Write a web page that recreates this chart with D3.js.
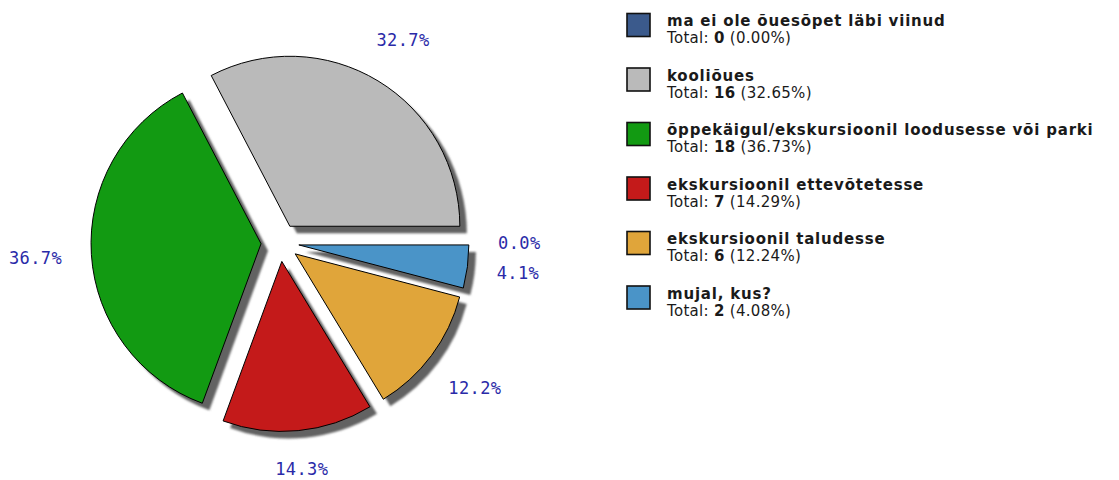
<!DOCTYPE html>
<html>
<head>
<meta charset="utf-8">
<script src="https://cdn.jsdelivr.net/npm/d3@7"></script>
<style>
  html, body { margin: 0; padding: 0; background: #ffffff; }
  svg { display: block; }
</style>
</head>
<body>
<svg id="chart" width="1119" height="480"></svg>
<script>
// ---- data ----
const categories = [
  "ma ei ole õuesõpet läbi viinud",
  "kooliõues",
  "õppekäigul/ekskursioonil loodusesse või parki",
  "ekskursioonil ettevõtetesse",
  "ekskursioonil taludesse",
  "mujal, kus?"
];
const counts = [0, 16, 18, 7, 6, 2];
const colors = ["#3b5a8c", "#bababa", "#129a12", "#c41a1a", "#e0a53a", "#4a94c8"];

// ---- layout ----
const W = 1119, H = 480;
const cx = 280, cy = 242.5, R = 170, explode = 19;
const shadowDx = 7, shadowDy = 7;
const total = d3.sum(counts);

const svg = d3.select("#chart");
svg.append("rect").attr("width", W).attr("height", H).attr("fill", "#fff");

const defs = svg.append("defs");
defs.append("filter").attr("id", "soft")
  .attr("x", "-10%").attr("y", "-10%").attr("width", "120%").attr("height", "120%")
  .append("feGaussianBlur").attr("stdDeviation", 0.8);

const pie = d3.pie().sort(null).value(d => d)
  .startAngle(Math.PI / 2).endAngle(Math.PI / 2 - 2 * Math.PI);
const arcs = pie(counts).map((a, i) => {
  const mid = (a.startAngle + a.endAngle) / 2;
  return Object.assign(a, {
    i, mid,
    ox: Math.sin(mid) * explode,
    oy: -Math.cos(mid) * explode
  });
});
const arc = d3.arc().innerRadius(0).outerRadius(R);

const g = svg.append("g").attr("transform", `translate(${cx},${cy})`);
const visible = arcs.filter(a => a.value > 0);

// shadows
g.append("g").selectAll("path").data(visible).join("path")
  .attr("d", arc)
  .attr("transform", a => `translate(${a.ox + shadowDx},${a.oy + shadowDy})`)
  .attr("fill", "#626262")
  .attr("filter", "url(#soft)");

// slices
g.append("g").selectAll("path").data(visible).join("path")
  .attr("d", arc)
  .attr("transform", a => `translate(${a.ox},${a.oy})`)
  .attr("fill", a => colors[a.i])
  .attr("stroke", "#000")
  .attr("stroke-width", 1)
  .attr("stroke-linejoin", "miter");

// percentage labels
const gap = 29, textH = 13;
const labels = g.append("g").selectAll("text").data(arcs).join("text")
  .attr("font-family", "'DejaVu Sans Mono', monospace")
  .attr("font-size", 17)
  .attr("letter-spacing", 0.4)
  .attr("fill", "#2a2aa8")
  .attr("text-anchor", "middle")
  .attr("dy", "0.36em")
  .text(a => (a.value / total * 100).toFixed(1) + "%");
labels.each(function(a) {
  const w = this.getComputedTextLength();
  const sx = Math.sin(a.mid), sy = -Math.cos(a.mid);
  const dist = R + gap + Math.abs(sx) * w / 2 + Math.abs(sy) * textH / 2;
  d3.select(this)
    .attr("x", a.ox + sx * dist)
    .attr("y", a.oy + sy * dist);
});

// ---- legend ----
const legX = 627, legY0 = 13.5, legStep = 54.5, box = 23, textX = 667;
const leg = svg.append("g").selectAll("g").data(categories).join("g")
  .attr("transform", (d, i) => `translate(0,${legY0 + i * legStep})`);

leg.append("rect")
  .attr("x", legX).attr("y", 0).attr("width", box).attr("height", box)
  .attr("fill", (d, i) => colors[i])
  .attr("stroke", "#111").attr("stroke-width", 1.6);

leg.append("text")
  .attr("x", textX).attr("y", 12.5)
  .attr("font-family", "'DejaVu Sans', sans-serif")
  .attr("font-size", 15).attr("font-weight", "bold")
  .attr("letter-spacing", 0.8)
  .attr("fill", "#1a1a1a")
  .text(d => d);

const sub = leg.append("text")
  .attr("x", textX).attr("y", 29.5)
  .attr("font-family", "'DejaVu Sans', sans-serif")
  .attr("font-size", 15)
  .attr("letter-spacing", 0.3)
  .attr("fill", "#1a1a1a");
sub.append("tspan").text("Total: ");
sub.append("tspan").attr("font-weight", "bold").text((d, i) => counts[i]);
sub.append("tspan").text((d, i) => " (" + (counts[i] / total * 100).toFixed(2) + "%)");
</script>
</body>
</html>
